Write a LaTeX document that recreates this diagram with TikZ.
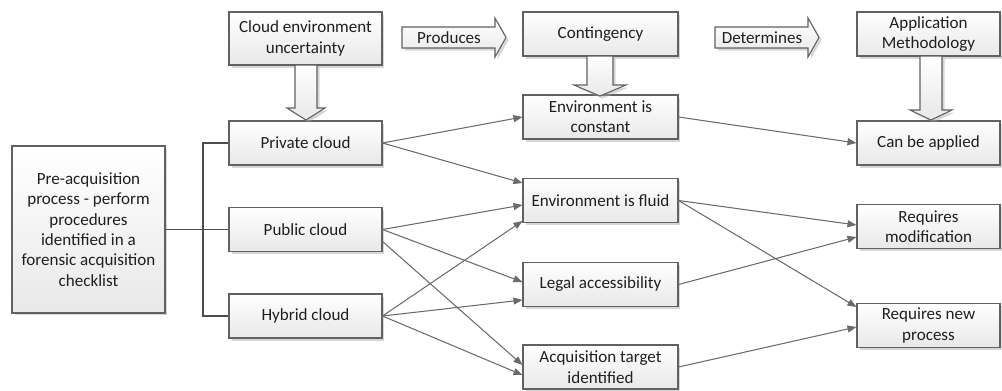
\documentclass[tikz,border=0pt]{standalone}
\usepackage{fontspec}
\setmainfont{Carlito}
\usetikzlibrary{arrows.meta, calc, shadows}

\begin{document}
\begin{tikzpicture}[x=0.02cm, y=-0.02cm,
		font=\fontsize{9.7}{11.6}\selectfont,
		shade box/.style={draw=black!62, line width=0.6pt, top color=white, bottom color=black!9,
			drop shadow={shadow xshift=0.05cm, shadow yshift=-0.05cm, fill=black!35, opacity=0.45}},
		box/.style={shade box, text=black!88, align=center, inner sep=1pt,
			minimum width=3.06cm, minimum height=0.88cm},
		rbox/.style={box, minimum width=2.86cm},
		link/.style={draw=black!58, line width=0.6pt, -{Triangle[length=1.8mm, width=1.4mm]}},
		tree/.style={draw=black!70, line width=0.6pt}]
		\useasboundingbox (0,0) rectangle (1002,390);

		% left column
		\node[box, minimum height=3.34cm] (pre) at (88.5,229.5) {Pre-acquisition\\process - perform\\procedures\\identified in a\\forensic acquisition\\checklist};
		\node[box, minimum height=1.06cm] (uncert) at (305.5,38.5) {Cloud environment\\uncertainty};
		\node[box] (private) at (305.5,143) {Private cloud};
		\node[box] (public) at (305.5,229.5) {Public cloud};
		\node[box] (hybrid) at (305.5,316) {Hybrid cloud};

		% middle column
		\node[box, minimum width=3.1cm] (conting) at (600.5,34) {Contingency};
		\node[box, minimum width=3.1cm] (envconst) at (600.5,117) {Environment is\\constant};
		\node[box, minimum width=3.1cm] (envfluid) at (600.5,200.5) {Environment is fluid};
		\node[box, minimum width=3.1cm] (legal) at (600.5,284.5) {Legal accessibility};
		\node[box, minimum width=3.1cm] (acq) at (600.5,367) {Acquisition target\\identified};

		% right column
		\node[rbox] (method) at (928.5,34) {Application\\Methodology};
		\node[rbox] (canapply) at (928.5,143) {Can be applied};
		\node[rbox] (reqmod) at (928.5,226.5) {Requires\\modification};
		\node[rbox] (reqnew) at (928.5,325.5) {Requires new\\process};

		% block arrows
		\draw[shade box] (402,27) -- (495,27) -- (495,18) -- (506,37.5) -- (495,57) -- (495,48) -- (402,48) -- cycle;
		\node[text=black!88] (produces) at (449,37.5) {Produces};
		\draw[shade box] (715,27) -- (808,27) -- (808,18) -- (819,37.5) -- (808,57) -- (808,48) -- (715,48) -- cycle;
		\node[text=black!88] (determines) at (762,37.5) {Determines};
		\draw[shade box] (295,65) -- (317,65) -- (317,108) -- (325,108) -- (306,120) -- (287,108) -- (295,108) -- cycle;
		\draw[shade box] (587,56) -- (613,56) -- (613,85) -- (626,85) -- (600,96) -- (574,85) -- (587,85) -- cycle;
		\draw[shade box] (920,56) -- (942,56) -- (942,110) -- (952,110) -- (931,120) -- (910,110) -- (920,110) -- cycle;

		% tree
		\coordinate (fork) at (203,229.5);
		\draw[tree] (pre.east) -- (public.west);
		\draw[tree] (private.west) -| (fork) |- (hybrid.west);

		% links
		\draw[link] (private.east) -- (envconst.west);
		\draw[link] (private.east) -- ($(envfluid.west)+(0,-17.5)$);
		\draw[link] (public.east) -- ($(envfluid.west)+(0,4.5)$);
		\draw[link] (public.east) -- ($(legal.west)+(0,-2.5)$);
		\draw[link] ($(public.east)+(0,12)$) -- ($(acq.west)+(0,-2)$);
		\draw[link] (hybrid.east) -- ($(envfluid.west)+(0,20.5)$);
		\draw[link] (hybrid.east) -- ($(legal.west)+(0,15.5)$);
		\draw[link] (hybrid.east) -- ($(acq.west)+(0,8)$);
		\draw[link] (envconst.east) -- (canapply.west);
		\draw[link] (envfluid.east) -- ($(reqmod.west)+(0,-1.5)$);
		\draw[link] (envfluid.east) -- ($(reqnew.west)+(0,-18.5)$);
		\draw[link] (legal.east) -- ($(reqmod.west)+(0,10.5)$);
		\draw[link] (acq.east) -- ($(reqnew.west)+(0,1.5)$);
	\end{tikzpicture}
\end{document}
